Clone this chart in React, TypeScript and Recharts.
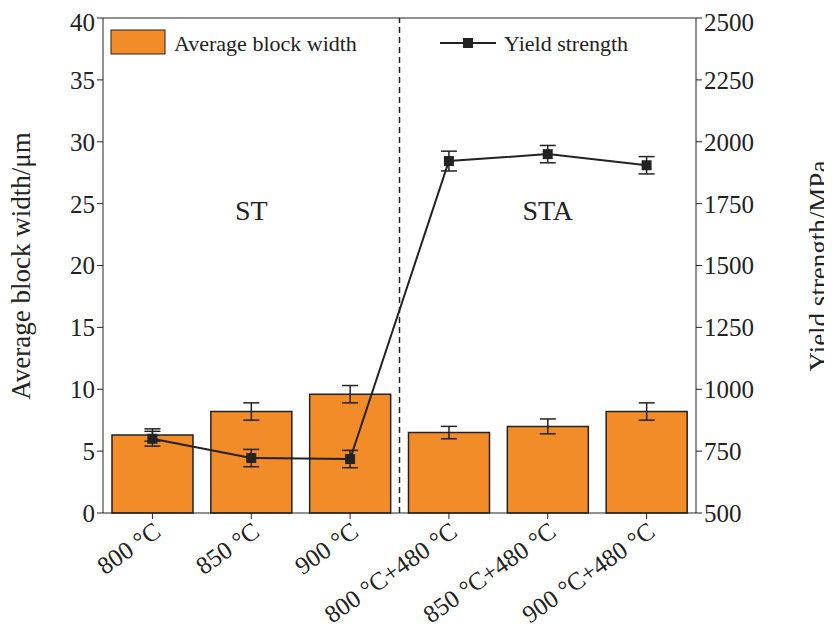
import { ComposedChart, Bar, Line, XAxis, YAxis, ErrorBar, ReferenceLine, ReferenceDot } from "recharts";

const categories = ["800 °C", "850 °C", "900 °C", "800 °C+480 °C", "850 °C+480 °C", "900 °C+480 °C"];
const blockWidth = [6.3, 8.2, 9.6, 6.5, 7.0, 8.2];
const blockErr = [0.5, 0.7, 0.7, 0.5, 0.6, 0.7];
const yieldStrength = [800, 722, 718, 1922, 1950, 1905];
const yieldErr = [30, 35, 35, 40, 35, 35];

const data = categories.map((c, i) => ({
  x: i,
  width: blockWidth[i],
  wErr: blockErr[i],
  ys: yieldStrength[i],
  yErr: yieldErr[i],
}));

const font = "'Liberation Serif', 'Times New Roman', serif";

const XTick = ({ x, y, payload }: any) => (
  <text x={x + 10} y={y + 14} fontSize={25} fontFamily={font} textAnchor="end" fill="#222"
    transform={`rotate(-35 ${x + 10} ${y + 14})`}>
    {categories[payload.value]}
  </text>
);

const Overlay = () => (
  <div style={{ position: "absolute", left: 0, top: 0, pointerEvents: "none" }}>
    <svg width={832} height={639}>
      <rect x={103} y={22} width={54} height={24} fill="#f28c28" stroke="#222" />
      <text x={166} y={43} fontSize={22} fontFamily={font} fill="#222">Average block width</text>
      <line x1={432} x2={488} y1={35} y2={35} stroke="#222" strokeWidth={2} />
      <rect x={455} y={30} width={10} height={10} fill="#222" />
      <text x={496} y={43} fontSize={22} fontFamily={font} fill="#222">Yield strength</text>
      <text x={0} y={0} fontSize={27} fontFamily={font} fill="#222" textAnchor="middle"
        transform="translate(22 258) rotate(-90)">Average block width/μm</text>
      <text x={0} y={0} fontSize={27} fontFamily={font} fill="#222" textAnchor="middle"
        transform="translate(820 258) rotate(-90)">Yield strength/MPa</text>
    </svg>
  </div>
);

export default function App() {
  return (
    <div style={{ position: "relative", width: 832, height: 639, background: "#fff" }}>
      <ComposedChart width={832} height={639} data={data}
        margin={{ top: 10, right: 0, bottom: 0, left: 0 }}
        style={{ fontFamily: font }}>
        <XAxis dataKey="x" type="number" domain={[-0.5, 5.5]} ticks={[0, 1, 2, 3, 4, 5]}
          tick={<XTick />} height={134} stroke="#222" tickLine={{ stroke: "#222" }} />
        <YAxis yAxisId="l" domain={[0, 40]} ticks={[0, 5, 10, 15, 20, 25, 30, 35, 40]} width={95}
          stroke="#222" tick={{ fontSize: 25, fill: "#222" }} tickSize={6} />
        <YAxis yAxisId="r" orientation="right" domain={[500, 2500]}
          ticks={[500, 750, 1000, 1250, 1500, 1750, 2000, 2250, 2500]} width={144}
          stroke="#222" tick={{ fontSize: 25, fill: "#222" }} tickSize={6} />
        <Bar yAxisId="l" dataKey="width" fill="#f28c28" stroke="#222" strokeWidth={1.5} barSize={81} isAnimationActive={false}>
          <ErrorBar dataKey="wErr" width={8} stroke="#222" strokeWidth={1.5} />
        </Bar>
        <Line yAxisId="r" dataKey="ys" stroke="#222" strokeWidth={2}
          dot={(p: any) => <rect key={p.index} x={p.cx - 5} y={p.cy - 5} width={10} height={10} fill="#222" />}
          isAnimationActive={false}>
          <ErrorBar dataKey="yErr" width={8} stroke="#222" strokeWidth={1.5} />
        </Line>
        <ReferenceLine yAxisId="l" y={40} stroke="#222" strokeWidth={1} />
        <ReferenceLine yAxisId="l" x={2.5} stroke="#222" strokeDasharray="6 4" strokeWidth={1.5} />
        <ReferenceDot yAxisId="l" x={1} y={24.5} r={0} label={{ value: "ST", fontSize: 28, fill: "#222" }} />
        <ReferenceDot yAxisId="l" x={4} y={24.5} r={0} label={{ value: "STA", fontSize: 28, fill: "#222" }} />
      </ComposedChart>
      <Overlay />
    </div>
  );
}
